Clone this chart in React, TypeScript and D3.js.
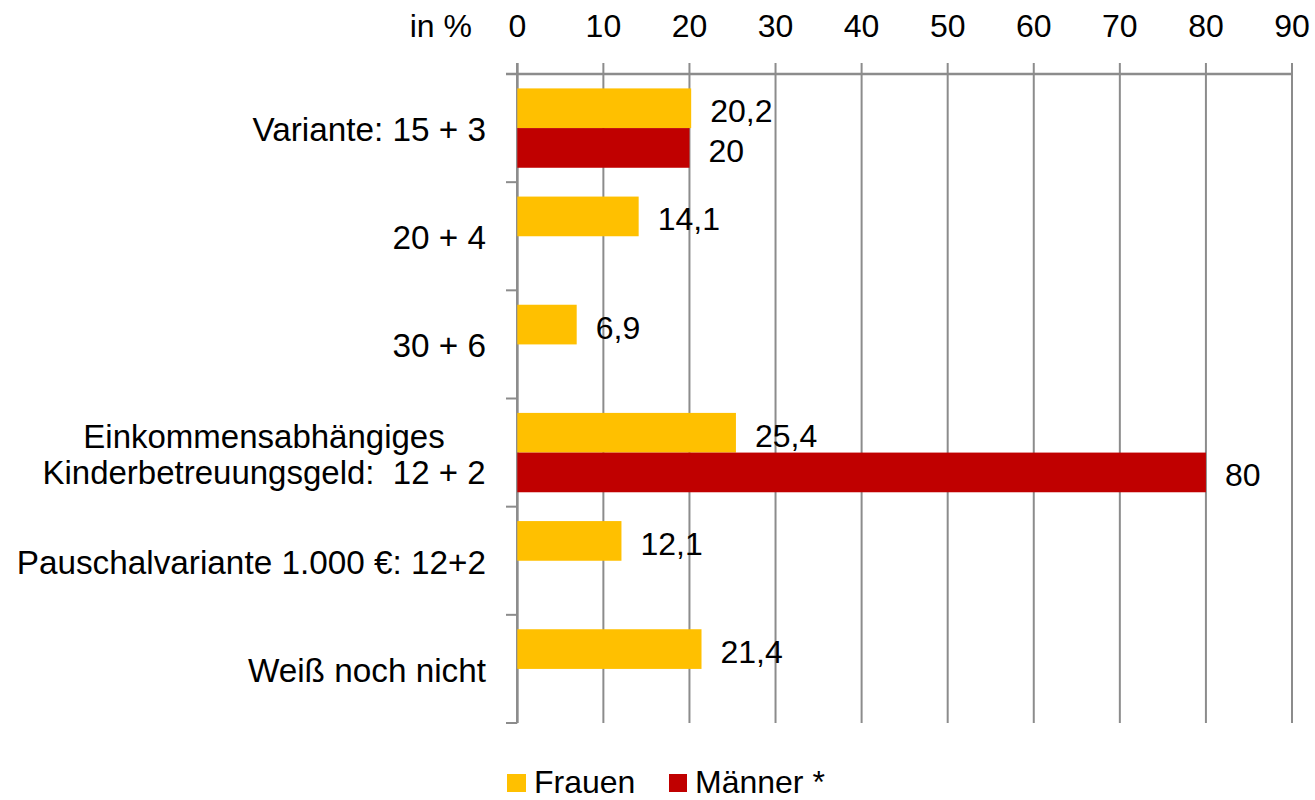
import React from "react";
import * as d3 from "d3";

const categories: string[][] = [
  ["Variante: 15 + 3"],
  ["20 + 4"],
  ["30 + 6"],
  ["Einkommensabhängiges", "Kinderbetreuungsgeld:  12 + 2"],
  ["Pauschalvariante 1.000 €: 12+2"],
  ["Weiß noch nicht"],
];
const seriesNames = ["Frauen", "Männer *"];
const frauen: (number | null)[] = [20.2, 14.1, 6.9, 25.4, 12.1, 21.4];
const maenner: (number | null)[] = [20, null, null, 80, null, null];
const xTicks = [0, 10, 20, 30, 40, 50, 60, 70, 80, 90];
const axisTitle = "in %";

const COLORS = ["#FFC000", "#C00000"];
const GRID = "#8C8C8C";
const FONT = "'Liberation Sans', Arial, sans-serif";

export default function App() {
  const W = 1315, H = 800;
  const x = d3.scaleLinear().domain([0, 90]).range([517.3, 1292]);
  const catKeys = categories.map((c) => c.join(" "));
  const y = d3.scaleBand<string>().domain(catKeys).range([74, 723]).paddingInner(0).paddingOuter(0);
  const inner = d3
    .scaleBand<number>()
    .domain([0, 1])
    .range([0, y.bandwidth()])
    .paddingInner(0)
    .paddingOuter(0.363);
  const fmt = (v: number) => String(v).replace(".", ",");
  const series = [frauen, maenner];
  const catTicks = [...catKeys.map((k) => y(k) as number), 723];
  const catFont = 33.3;

  return (
    <svg width={W} height={H} style={{ position: "absolute", left: 0, top: 0, background: "#fff" }} fontFamily={FONT}>
      {/* grid lines / top ticks */}
      {xTicks.map((t) => (
        <line key={"g" + t} x1={x(t)} x2={x(t)} y1={63} y2={723} stroke={GRID} strokeWidth={2} />
      ))}
      {/* top axis line */}
      <line x1={506} x2={x(90)} y1={74} y2={74} stroke={GRID} strokeWidth={2.5} />
      {/* left axis */}
      <line x1={x(0)} x2={x(0)} y1={63} y2={723} stroke={GRID} strokeWidth={2.5} />
      {catTicks.map((yy, i) => (
        <line key={"ct" + i} x1={506} x2={x(0)} y1={yy} y2={yy} stroke={GRID} strokeWidth={2} />
      ))}
      {/* tick labels */}
      {xTicks.map((t) => (
        <text key={"tl" + t} x={x(t)} y={37} fontSize={32} textAnchor="middle" fill="#000">
          {t}
        </text>
      ))}
      <text x={472} y={37} fontSize={32} textAnchor="end" fill="#000">
        {axisTitle}
      </text>
      {/* bars */}
      {series.map((s, si) =>
        s.map((v, ci) =>
          v == null ? null : (
            <rect
              key={`b${si}-${ci}`}
              x={x(0)}
              y={(y(catKeys[ci]) as number) + (inner(si) as number)}
              width={x(v) - x(0)}
              height={inner.bandwidth()}
              fill={COLORS[si]}
            />
          )
        )
      )}
      {/* value labels */}
      {series.map((s, si) =>
        s.map((v, ci) =>
          v == null ? null : (
            <text
              key={`l${si}-${ci}`}
              x={x(v) + 19}
              y={(y(catKeys[ci]) as number) + (inner(si) as number) + inner.bandwidth() / 2 + 14}
              fontSize={32}
              fill="#000"
            >
              {fmt(v)}
            </text>
          )
        )
      )}
      {/* category labels */}
      {categories.map((lines, ci) => {
        const cy = (y(catKeys[ci]) as number) + y.bandwidth() / 2;
        const lh = 36;
        if (lines.length === 1) {
          return (
            <text key={"c" + ci} x={486} y={cy + 13} fontSize={catFont} textAnchor="end" fill="#000">
              {lines[0]}
            </text>
          );
        }
        return (
          <g key={"c" + ci}>
            {lines.map((ln, li) => (
              <text
                key={li}
                x={264}
                y={cy + 13 + (li - (lines.length - 1) / 2) * lh}
                fontSize={33}
                textAnchor="middle"
                fill="#000"
                style={{ whiteSpace: "pre" }}
              >
                {ln}
              </text>
            ))}
          </g>
        );
      })}
      {/* legend */}
      <rect x={507} y={774} width={19} height={18} fill={COLORS[0]} />
      <text x={534} y={793} fontSize={32} fill="#000">
        {seriesNames[0]}
      </text>
      <rect x={669} y={774} width={18} height={18} fill={COLORS[1]} />
      <text x={695} y={793} fontSize={32} fill="#000">
        {seriesNames[1]}
      </text>
    </svg>
  );
}
